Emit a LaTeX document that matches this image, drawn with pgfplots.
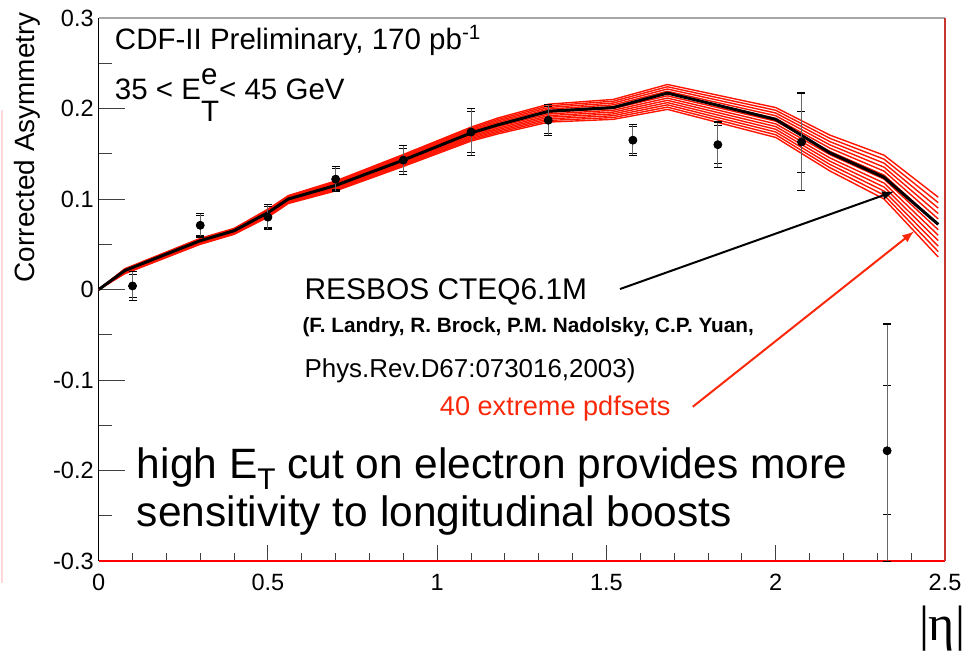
\documentclass[border=0pt]{standalone}
\usepackage{fontspec}
\setmainfont{Liberation Sans}
\newfontfamily\serifgreek{Liberation Serif}
\usepackage{pgfplots}
\pgfplotsset{compat=1.18}
\usepackage{pgfplotstable}
\usetikzlibrary{arrows.meta}
\definecolor{bandred}{RGB}{255,20,0}
\definecolor{annred}{RGB}{250,40,10}
\definecolor{framered}{RGB}{200,55,45}

\pgfplotstableread{
x c
0 0
0.077 0.021
0.3 0.054
0.4 0.065
0.5 0.085
0.56 0.100
0.7 0.115
0.9 0.143
1.1 0.173
1.18 0.182
1.33 0.197
1.52 0.201
1.68 0.217
2.0 0.188
2.16 0.151
2.32 0.124
2.48 0.072
}\central

\pgfplotstableread{
x r0 r1 r2 r3 r4 r5 r6 r7 r8 r9 r10 r11
0 0 0 0 0 0 0 0 0 0 0 0 0
0.077 0.0175 0.0180 0.0185 0.0190 0.0195 0.0200 0.0205 0.0210 0.0215 0.0220 0.0225 0.0230
0.3 0.0500 0.0506 0.0512 0.0518 0.0524 0.0530 0.0536 0.0542 0.0548 0.0554 0.0560 0.0566
0.4 0.0610 0.0616 0.0622 0.0628 0.0634 0.0640 0.0646 0.0652 0.0658 0.0664 0.0670 0.0676
0.5 0.0800 0.0808 0.0816 0.0824 0.0832 0.0840 0.0848 0.0856 0.0864 0.0872 0.0880 0.0888
0.56 0.0950 0.0958 0.0966 0.0974 0.0982 0.0990 0.0998 0.1006 0.1014 0.1022 0.1030 0.1038
0.7 0.109 0.110 0.111 0.112 0.113 0.114 0.115 0.116 0.117 0.118 0.119 0.120
0.9 0.1360 0.1372 0.1384 0.1396 0.1408 0.1420 0.1432 0.1444 0.1456 0.1468 0.1480 0.1492
1.1 0.1640 0.1654 0.1668 0.1682 0.1696 0.1710 0.1724 0.1738 0.1752 0.1766 0.1780 0.1794
1.18 0.1720 0.1736 0.1752 0.1768 0.1784 0.1800 0.1816 0.1832 0.1848 0.1864 0.1880 0.1896
1.33 0.1850 0.1868 0.1886 0.1904 0.1922 0.1940 0.1958 0.1976 0.1994 0.2012 0.2030 0.2048
1.52 0.188 0.190 0.192 0.194 0.196 0.198 0.200 0.202 0.204 0.206 0.208 0.210
1.68 0.1990 0.2015 0.2040 0.2065 0.2090 0.2115 0.2140 0.2165 0.2190 0.2215 0.2240 0.2265
2.0 0.168 0.171 0.174 0.177 0.180 0.183 0.186 0.189 0.192 0.195 0.198 0.201
2.16 0.1310 0.1346 0.1382 0.1418 0.1454 0.1490 0.1526 0.1562 0.1598 0.1634 0.1670 0.1706
2.32 0.1000 0.1044 0.1088 0.1132 0.1176 0.1220 0.1264 0.1308 0.1352 0.1396 0.1440 0.1484
2.48 0.036 0.042 0.048 0.054 0.060 0.066 0.072 0.078 0.084 0.090 0.096 0.102
}\band

\pgfplotstableread{
x y ep em sp sm
0.100 0.004 0.016 0.016 0.013 0.013
0.300 0.071 0.013 0.013 0.011 0.011
0.500 0.080 0.014 0.014 0.012 0.012
0.700 0.122 0.014 0.014 0.012 0.012
0.900 0.143 0.016 0.016 0.013 0.013
1.100 0.174 0.026 0.026 0.023 0.023
1.328 0.187 0.017 0.017 0.015 0.015
1.578 0.165 0.017 0.017 0.015 0.015
1.829 0.160 0.025 0.025 0.021 0.021
2.076 0.163 0.054 0.054 0.034 0.034
2.329 -0.178 0.140 0.122 0.072 0.070
}\data

\begin{document}
\begin{tikzpicture}
\begin{axis}[name=ax,
  scale only axis, width=424.5pt, height=272.5pt,
  xmin=0, xmax=2.5, ymin=-0.3, ymax=0.3, clip=false,
  axis line style={-},
  axis x line*=bottom, axis y line*=left,
  x axis line style={-, red, line width=1pt},
  y axis line style={-, black, line width=0.8pt},
  tick align=inside,
  xtick={0,0.5,1,1.5,2,2.5}, xticklabels={0,0.5,1,1.5,2,2.5},
  minor x tick num=4,
  ytick={-0.3,-0.2,-0.1,0,0.1,0.2,0.3},
  yticklabels={-0.3,-0.2,-0.1,0,0.1,0.2,0.3},
  minor y tick num=1,
  major tick length=13pt, minor tick length=6.5pt,
  x tick style={/pgfplots/major tick length=8pt,/pgfplots/minor tick length=4pt},
  tick style={black!75, line width=0.5pt},
  ticklabel style={font=\fontsize{11.8}{12}\selectfont},
  xticklabel style={yshift=-3pt},
  yticklabel style={xshift=1pt},
]
% band of 40 pdf sets
\pgfplotsinvokeforeach{0,...,11}{
  \addplot[bandred, line width=0.7pt, mark=none, forget plot] table[x=x,y=r#1]{\band};
}
% central RESBOS
\addplot[black, line width=1.5pt, mark=none] table[x=x,y=c]{\central};
% stat errors
\addplot[only marks, mark=none, forget plot,
  error bars/.cd, y dir=both, y explicit,
  error bar style={black!60, line width=0.5pt},
  error mark options={rotate=90, black, mark size=2pt, line width=0.6pt}]
  table[x=x, y=y, y error plus=sp, y error minus=sm]{\data};
% total errors with points
\addplot[only marks, mark=*, mark size=1.8pt, black,
  error bars/.cd, y dir=both, y explicit,
  error bar style={black!60, line width=0.5pt},
  error mark options={rotate=90, black, mark size=2pt, line width=0.6pt}]
  table[x=x, y=y, y error plus=ep, y error minus=em]{\data};

% annotations
\node[anchor=base west, inner sep=0, font=\fontsize{14.8}{15}\selectfont] at (axis cs:0.047,0.265) {CDF-II Preliminary, 170 pb\textsuperscript{-1}};
\node[anchor=base west, inner sep=0, font=\fontsize{14.8}{15}\selectfont] at (axis cs:0.047,0.2097) {35 < E\rlap{\raisebox{0.5em}{e}}\raisebox{-0.75em}{T}< 45 GeV};
\node[anchor=base west, inner sep=0, font=\fontsize{15}{15}\selectfont] at (axis cs:0.607,-0.0105) {RESBOS CTEQ6.1M};
\node[anchor=base west, inner sep=0, font=\fontsize{10.4}{10}\selectfont\bfseries] at (axis cs:0.601,-0.0479) {(F. Landry, R. Brock, P.M. Nadolsky, C.P. Yuan,};
\node[anchor=base west, inner sep=0, font=\fontsize{13}{13}\selectfont] at (axis cs:0.607,-0.0974) {Phys.Rev.D67:073016,2003)};
\node[anchor=base west, inner sep=0, text=annred, font=\fontsize{13.6}{13}\selectfont] at (axis cs:1.007,-0.139) {40 extreme pdfsets};
\node[anchor=base west, inner sep=0, font=\fontsize{21.3}{21}\selectfont] at (axis cs:0.112,-0.2086) {high E\raisebox{-0.25em}{\fontsize{15}{15}\selectfont T} cut on electron provides more};
\node[anchor=base west, inner sep=0, font=\fontsize{21.3}{21}\selectfont] at (axis cs:0.112,-0.2615) {sensitivity to longitudinal boosts};

\draw[black, line width=1pt, -{Latex[length=6pt,width=4.5pt]}] (axis cs:1.540,0.0006) -- (axis cs:2.350,0.1084);
\draw[annred, line width=1pt, -{Latex[length=6pt,width=4.5pt]}] (axis cs:1.755,-0.1294) -- (axis cs:2.409,0.0644);
\end{axis}
% frame top and right
\draw[black!35, line width=1pt] (ax.north west) -- (ax.north east);
\draw[framered, line width=1pt] (ax.north east) -- (ax.south east);
% axis titles
\node[rotate=90, anchor=east, inner sep=0, font=\fontsize{14}{14}\selectfont] at ([xshift=-36pt,yshift=3pt]ax.north west) {Corrected Asymmetry};
\node[anchor=center, inner sep=0, font=\fontsize{25}{25}\selectfont\serifgreek] at ([xshift=423pt,yshift=-34pt]ax.south west) {|η|};
% faint slide edge
\draw[red!15, line width=0.8pt] ([xshift=-48.5pt,yshift=226.5pt]ax.south west) -- ([xshift=-48.5pt,yshift=-11pt]ax.south west);
% bounding box
\path[use as bounding box] ([xshift=-49.5pt,yshift=-52.5pt]ax.south west) rectangle ([xshift=10pt,yshift=9pt]ax.north east);
\end{tikzpicture}
\end{document}
